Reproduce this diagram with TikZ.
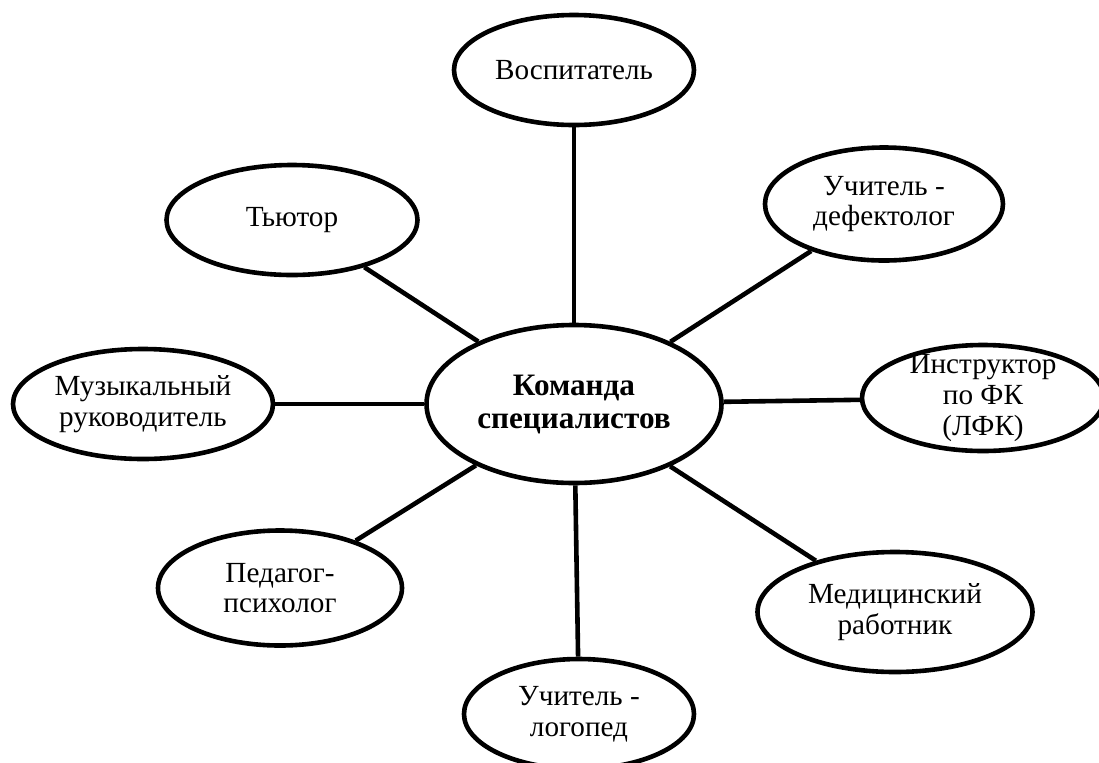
\documentclass[tikz,border=0pt]{standalone}
\usepackage{fontspec}
\setmainfont{Liberation Serif}
\usepackage{tikz}
\usetikzlibrary{shapes.geometric,positioning}

\tikzset{
  role/.style 2 args={ellipse, draw, line width=2.3pt, inner sep=0pt, align=center,
    minimum width=#1, minimum height=#2, font=\fontsize{14.6}{15.3}\selectfont},
  hubnode/.style={role={147.5pt}{79pt}, font=\fontsize{15.6}{16.5}\selectfont\bfseries}
}

\begin{document}
\begin{tikzpicture}[x=0.5pt,y=-0.5pt,node distance=2cm,on grid,line width=2.3pt]
  \path[use as bounding box, clip] (0,0) rectangle (1099,762);

  \node[hubnode] (hub) at (574,404) {Команда\\специалистов};

  \node[role={120pt}{55pt}] (vosp) [above = 167pt of hub] {Воспитатель};
  \node[role={119pt}{56.5pt}] (defekt) [above right = 100pt and 155pt of hub] {Учитель -\\дефектолог};
  \node[role={121pt}{53pt},inner ysep=-5pt] (instr) [above right = 3pt and 204.5pt of hub] {Инструктор\\по ФК\\(ЛФК)};
  \node[role={137.5pt}{60pt}] (med) [below right = 104pt and 160.5pt of hub] {Медицинский\\работник};
  \node[role={115pt}{55pt}] (logo) [below right = 155pt and 2.5pt of hub] {Учитель -\\логопед};
  \node[role={122pt}{57.5pt}] (psych) [below left = 92pt and 147pt of hub] {Педагог-\\психолог};
  \node[role={130pt}{55pt}] (muz) [left = 215.5pt of hub] {Музыкальный\\руководитель};
  \node[role={125.5pt}{55pt}] (tutor) [above left = 92pt and 141pt of hub] {Тьютор};

  \path
  (hub)
  edge [] (vosp)
  edge [] (defekt)
  edge [] (instr)
  edge [] (med)
  edge [] (logo)
  edge [] (psych)
  edge [] (muz)
  edge [] (tutor)
  ;
\end{tikzpicture}
\end{document}
